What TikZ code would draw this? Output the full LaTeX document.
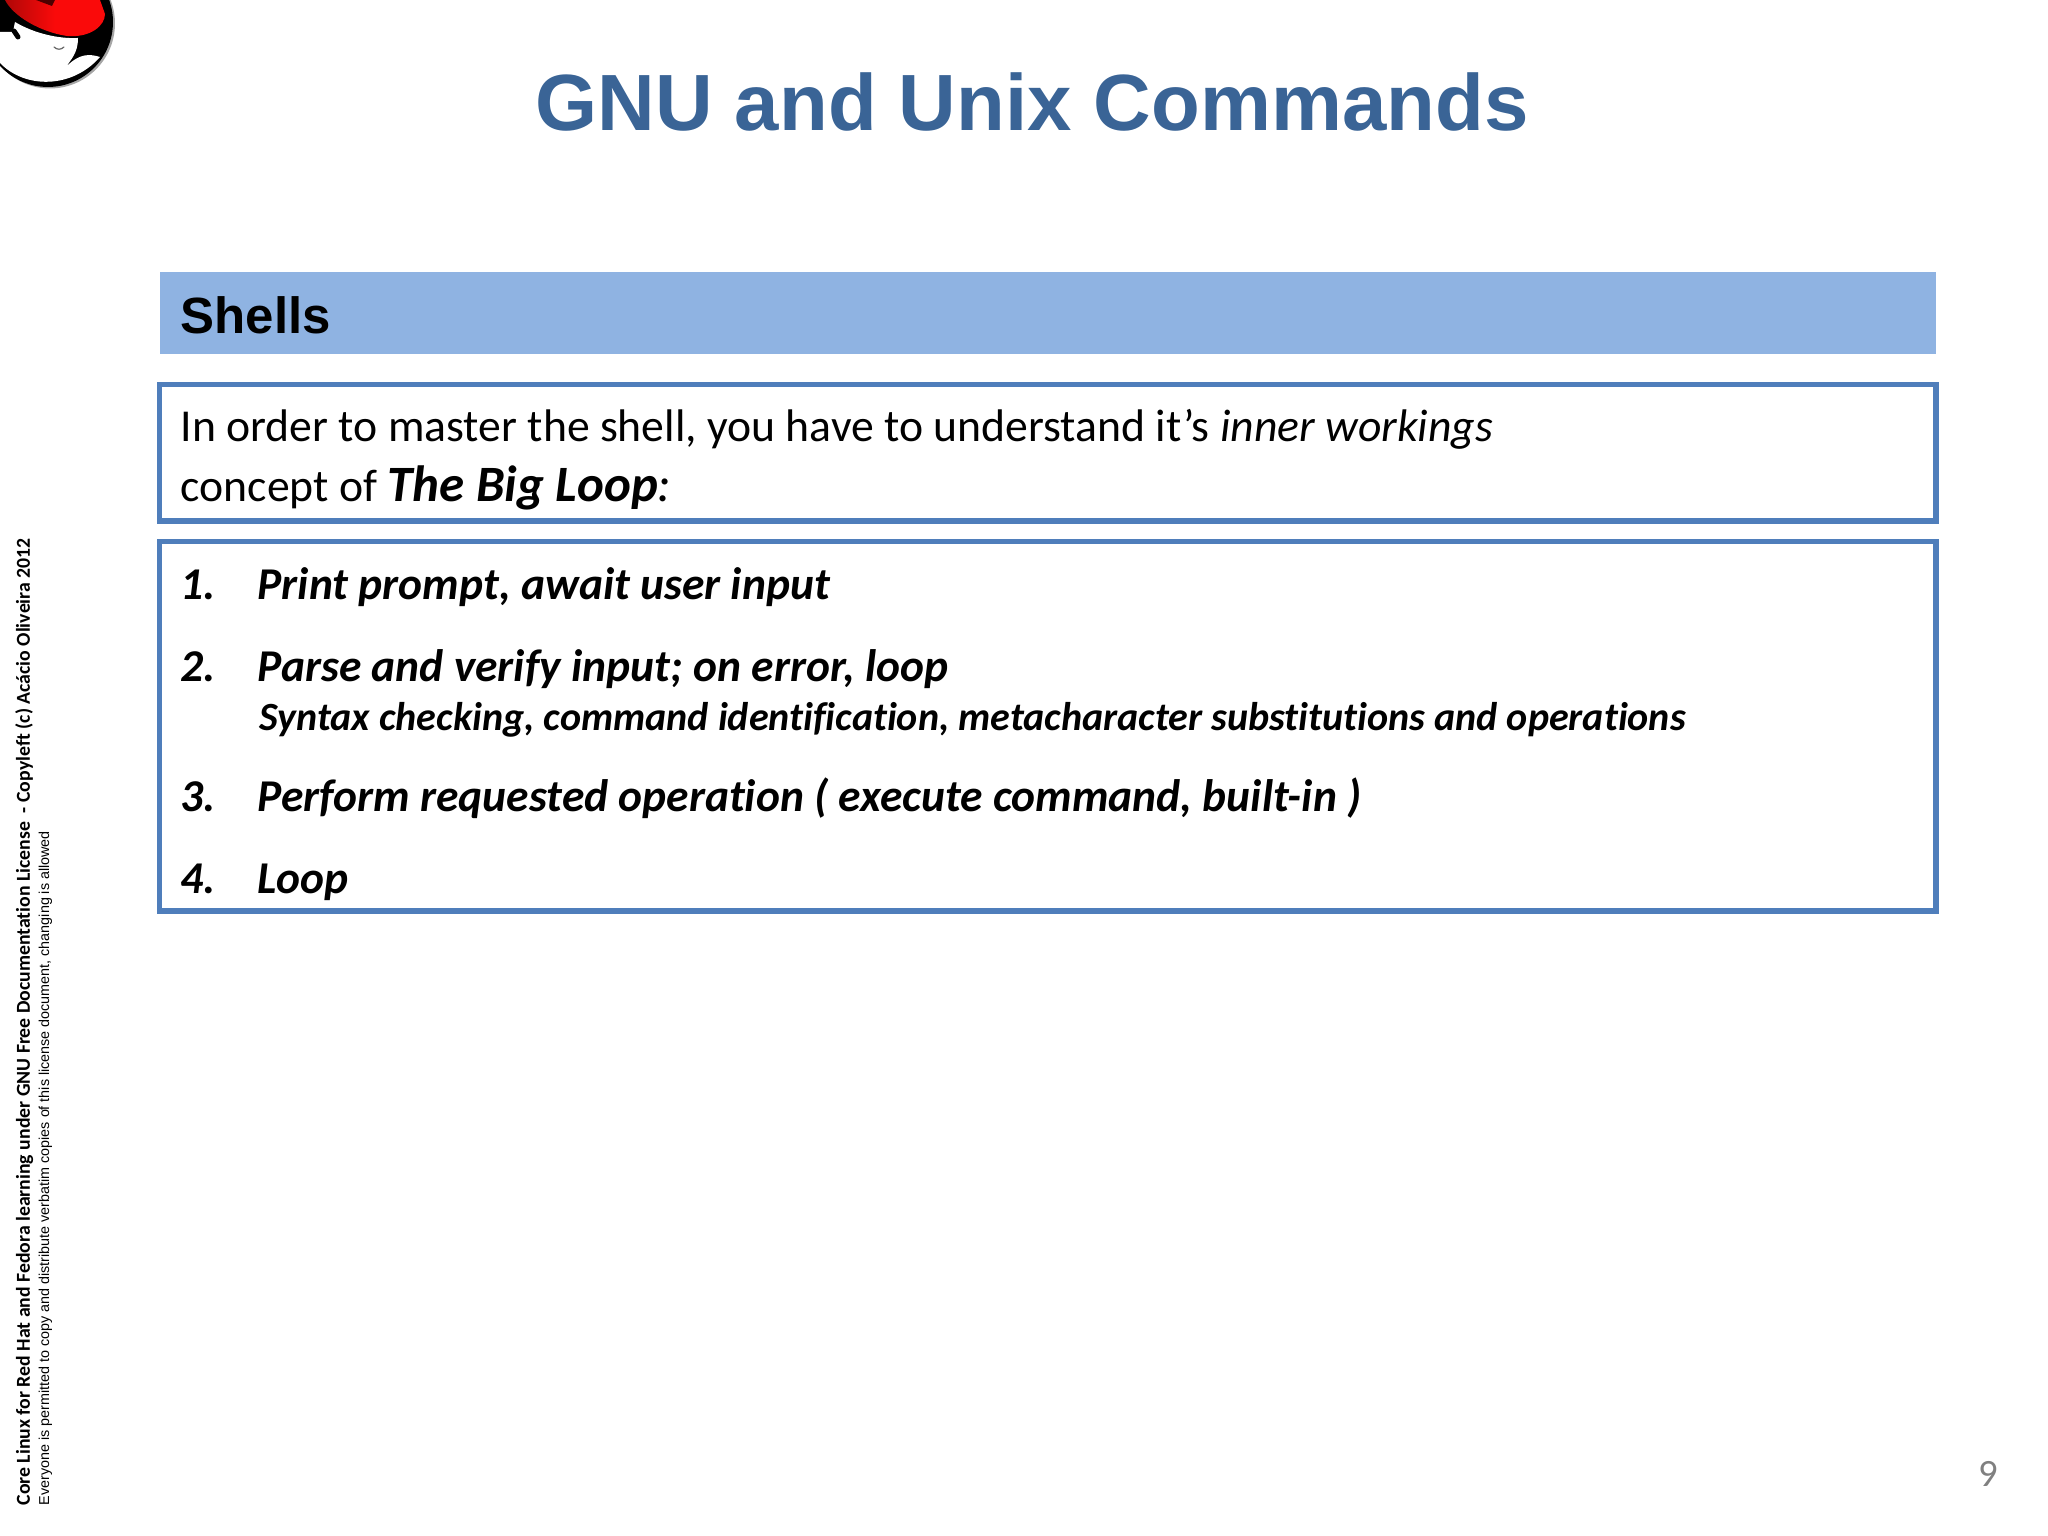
\documentclass[tikz,border=0pt]{standalone}
\usepackage{fontspec}
\setmainfont{Carlito}[Ligatures=CommonOff]
\newfontfamily\arialfont{Liberation Sans}
\definecolor{titleblue}{HTML}{3A6496}
\definecolor{bannerblue}{HTML}{8FB3E2}
\definecolor{boxblue}{HTML}{4F7EBB}
\definecolor{hatred}{HTML}{FA0A0A}
\tikzset{
  boxline/.style={draw=boxblue, line width=0.055cm, line join=miter},
  bodytext/.style={anchor=base west, inner sep=0pt, font=\fontsize{13}{15}\selectfont},
  itemtext/.style={anchor=base west, inner sep=0pt, font=\fontsize{12.95}{15}\selectfont\bfseries\itshape},
  subtext/.style={anchor=base west, inner sep=0pt, font=\fontsize{11.4}{13}\selectfont\bfseries\itshape}
}
\begin{document}
\begin{tikzpicture}[scale=1, line join=round, line cap=round]
	\useasboundingbox (0,0) rectangle (20.48,15.36);
	\begin{scope}
		\clip (0,0) rectangle (20.48,15.36);
		\fill [black!35] (0.50,15.125) circle (0.65);
		\fill [black] (0.48,15.14) circle (0.65);
		\fill [white] (0,14.73) .. controls (0.25,14.47) and (0.72,14.47) .. (1.0,14.79)
			.. controls (0.9,14.82) and (0.8,14.83) .. (0.67,14.70) .. controls (0.70,14.76) and (0.78,14.82) .. (0.78,14.98)
			.. controls (0.6,14.97) and (0.35,15.02) .. (0.15,15.14) -- (0.13,15.04) -- (0,15.04) -- cycle;
		\draw [black, line width=0.05cm] (0.14,15.05) -- (0.18,14.99);
		\shade [left color=hatred!70!black, right color=hatred, middle color=hatred] (0.05,15.36) .. controls (0.13,15.2) and (0.4,15.04) .. (0.67,15.0)
			.. controls (0.9,14.98) and (1.05,15.1) .. (1.05,15.22) -- (1.0,15.36) -- cycle;
		\fill [black!70!red] (0.36,15.36) -- (0.52,15.3) -- (0.55,15.36) -- cycle;
		\draw [black!60, line width=0.012cm] (0.54,14.89) .. controls (0.57,14.86) and (0.61,14.86) .. (0.64,14.89);
	\end{scope}
	\node [anchor=center, font=\arialfont\bfseries\fontsize{22.7}{27}\selectfont, text=titleblue] (title) at (10.32,14.34) {GNU and Unix Commands};
	\fill [bannerblue] (1.60,11.82) rectangle (19.36,12.64);
	\node [anchor=base west, inner sep=0pt, font=\arialfont\bfseries\fontsize{14.5}{17}\selectfont] (shells) at (1.80,12.02) {Shells};
	\draw [boxline] (1.595,10.15) rectangle (19.36,11.515);
	\draw [boxline] (1.595,6.25) rectangle (19.36,9.945);
	\node [bodytext] (intro) at (1.80,10.94) {In order to master the shell, you have to understand it’s \textit{inner workings}};
	\node [bodytext] (concept) at (1.80,10.34) {concept of {\fontsize{14.5}{17}\selectfont\bfseries\itshape The Big Loop}{\fontsize{14.5}{17}\selectfont\itshape :}};
	\node [itemtext] (num1) at (1.80,9.36) {1.};
	\node [itemtext] (item1) at (2.57,9.36) {Print prompt, await user input};
	\node [itemtext] (num2) at (1.80,8.54) {2.};
	\node [itemtext] (item2) at (2.57,8.54) {Parse and verify input; on error, loop};
	\node [subtext] (sub2) at (2.59,8.05) {Syntax checking, command identification, metacharacter substitutions and operations};
	\node [itemtext] (num3) at (1.80,7.24) {3.};
	\node [itemtext] (item3) at (2.57,7.24) {Perform requested operation ( execute command, built-in )};
	\node [itemtext] (num4) at (1.80,6.42) {4.};
	\node [itemtext] (item4) at (2.57,6.42) {Loop};
	\node [anchor=base west, inner sep=0pt, rotate=90, font=\bfseries\fontsize{5.62}{7}\selectfont] (license) at (0.30,0.30) {Core Linux for Red Hat and Fedora learning under GNU Free Documentation License\ \ - Copyleft (c) Acácio Oliveira 2012};
	\node [anchor=base west, inner sep=0pt, rotate=90, font=\arialfont\fontsize{4.08}{5}\selectfont] (verbatim) at (0.49,0.30) {Everyone is permitted to copy and distribute verbatim copies of this license document, changing is allowed};
	\node [anchor=center, inner sep=0pt, text=black!50, font=\fontsize{11}{13}\selectfont] (pagenum) at (19.88,0.62) {9};
\end{tikzpicture}
\end{document}
